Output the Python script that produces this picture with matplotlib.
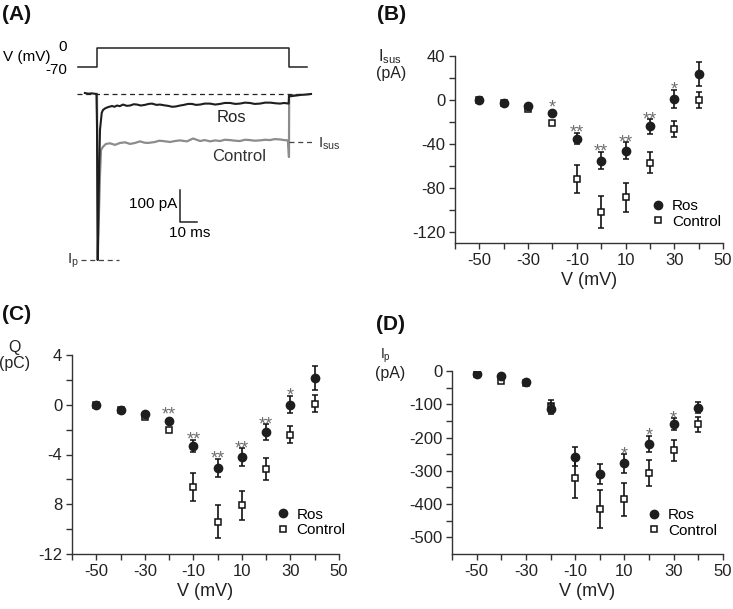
import numpy as np
import matplotlib.pyplot as plt
from matplotlib.lines import Line2D

plt.rcParams['font.family'] = ['Liberation Sans', 'DejaVu Sans']
plt.rcParams['mathtext.fontset'] = 'custom'
plt.rcParams['mathtext.rm'] = 'Liberation Sans'
plt.rcParams['axes.unicode_minus'] = False

# DATA
volts = [-50, -40, -30, -20, -10, 0, 10, 20, 30, 40]

# (B) sustained current, pA
isus_ros = [0, -3, -5, -12, -35, -55, -46, -24, 1, 23.5]
isus_ros_err = [0, 0, 0, 0, 5.4, 8, 7.5, 6.5, 8, 10.7]
isus_ctl = [0, -3, -8.5, -20.5, -72, -102, -88.6, -57, -26, 0]
isus_ctl_err = [0, 0, 0, 0, 12.7, 14.6, 13, 9.8, 7.2, 7.7]
isus_stars = ['', '', '', '*', '**', '**', '**', '**', '*', '']

# (C) charge, pC
q_ros = [0, -0.41, -0.76, -1.28, -3.3, -5.1, -4.2, -2.18, 0, 2.12]
q_ros_err = [0, 0, 0, 0, 0.48, 0.73, 0.7, 0.62, 0.7, 0.97]
q_ctl = [0, -0.41, -0.98, -2.07, -6.6, -9.4, -8.1, -5.2, -2.4, 0.08]
q_ctl_err = [0, 0, 0, 0, 1.1, 1.3, 1.15, 0.88, 0.67, 0.7]
q_stars = ['', '', '', '**', '**', '**', '**', '**', '*', '']

# (D) peak current, pA
ip_ros = [-9, -15, -33, -115, -257, -310, -278, -218, -160, -110]
ip_ros_err = [0, 0, 0, 15, 29, 31, 28, 24, 18, 16]
ip_ctl = [-9, -29, -35, -105, -323, -414, -386, -307, -238, -160]
ip_ctl_err = [0, 0, 0, 18, 60, 57, 49, 40, 32, 23]
ip_stars = ['', '', '', '', '', '', '*', '*', '*', '']

# (A) example traces, ms / pA
ros_t = [-6.9, -5, -2.9, -0.3, 0, 0.4, 1.1, 1.7, 2.7, 3.4, 4.6, 6.3, 8.6, 10, 11.4, 13, 14.9,
         17, 18.9, 21, 22.9, 25, 27.4, 29.5, 31.4, 34, 36, 38, 40.6, 43, 45, 47.5, 49.7, 52,
         54.3, 56.5, 58.9, 61.5, 64.6, 67.5, 70.3, 73, 76, 79, 81.7, 84.5, 87.4, 90, 93.1,
         96, 99, 102, 104.6, 107, 109.5, 109.7, 111, 113, 116, 118.9, 122.3]
ros_i = [3, 1, 2, 0, -100, -519, -270, -112, -59, -50, -45, -41, -37.5, -40, -36, -38, -33,
         -37, -36, -32, -33, -36, -34, -31, -30, -34, -33, -35, -37, -40, -39, -36, -34, -31,
         -31, -34, -33, -30, -30, -33, -31, -28, -28, -31, -30, -27, -28, -31, -30,
         -27, -27, -29, -30, -28, -30, -6, -7, -5, -3, -2, 0]
ctl_t = [0, 0.5, 1.7, 2.3, 3.4, 5.1, 7.4, 10.3, 13.1, 16, 18.9, 21.7, 24.6, 27, 29.1, 33.1,
         35.5, 37.7, 41.7, 44.5, 47.4, 51.4, 54.9, 58.9, 61.5, 64.6, 67.5, 70.3, 73, 76, 79,
         81.7, 84.5, 87.4, 90, 93.1, 96, 98.9, 101.5, 104.6, 107, 109.1, 109.7, 109.8, 112, 116]
ctl_i = [0, -500, -253, -175, -165, -156, -154, -159, -153, -151, -156, -153, -148, -152,
         -153, -150, -146, -147, -150, -147, -145, -148, -139, -147, -144, -148, -145, -147,
         -143, -144, -146, -147, -143, -144, -146, -145, -143, -144, -141, -142, -144, -145,
         -197, -6, -5, -3]
step_t = [-11, 0, 0, 109.7, 109.7, 120]
step_v = [-70, -70, 0, 0, -70, -70]

W, H = 733, 609
fig = plt.figure(figsize=(W / 100, H / 100), dpi=100)


def box(l, r, t, b):
    return [l / W, 1 - b / H, (r - l) / W, (b - t) / H]


def ftext(x, y, s, **kw):
    fig.text(x / W, 1 - y / H, s, **kw)


# PANEL A
axv = fig.add_axes(box(70, 315, 40, 75))
axa = fig.add_axes(box(70, 315, 80, 280))
for a in (axv, axa):
    a.set_axis_off()
    a.set_xlim(-15.43, 124.57)
axv.set_ylim(-99.5, 29.5)
axa.set_ylim(-581.25, 43.75)

axv.plot(step_t, step_v, color='#222222', lw=1.1)
axv.text(-17, 4, '0', ha='right', va='center', fontsize=11, clip_on=False)
axv.text(-17, -81, '-70', ha='right', va='center', fontsize=11, clip_on=False)
axv.text(-54, -33, 'V (mV)', ha='left', va='center', fontsize=11, clip_on=False)

axa.plot(ctl_t, ctl_i, color='#8c8c8c', lw=1.6)
axa.plot(ros_t, ros_i, color='#1e1e1e', lw=1.5)
axa.plot([-11.4, 122.9], [0, 0], color='#222222', lw=0.9, ls=(0, (4, 3)))
axa.plot([109.7, 124.6], [-150, -150], color='#444444', lw=0.9, ls=(0, (4, 3)))
axa.plot([-9.1, 12.6], [-519, -519], color='#444444', lw=0.9, ls=(0, (4, 3)))
axa.text(126.5, -156, r'$\mathregular{I_{sus}}$', ha='left', va='center', fontsize=11,
         color='#333333', clip_on=False)
axa.text(-10.5, -522, r'$\mathregular{I_p}$', ha='right', va='center', fontsize=11,
         color='#333333', clip_on=False)
axa.text(77, -73, 'Ros', ha='center', va='center', fontsize=12, color='#222222')
axa.text(81, -194, 'Control', ha='center', va='center', fontsize=12, color='#333333')
# scale bar
axa.plot([47.4, 47.4, 57.4], [-300, -400, -400], color='#222222', lw=1.1)
axa.text(45.8, -345, '100 pA', ha='right', va='center', fontsize=11)
axa.text(53, -435, '10 ms', ha='center', va='center', fontsize=11)


# IV PANELS
def iv_panel(rect, ros, ros_err, ctl, ctl_err, stars, ylim, yticks, yminor, ylabels, leg_xy):
    ax = fig.add_axes(rect)
    ax.errorbar(volts, ctl, yerr=ctl_err, fmt='none', ecolor='#111111', elinewidth=1.2,
                capsize=2.5, capthick=1.1, zorder=2)
    ax.plot(volts, ctl, 's', ms=4.8, mfc='white', mec='#111111', mew=1.1, zorder=3)
    ax.errorbar(volts, ros, yerr=ros_err, fmt='none', ecolor='#111111', elinewidth=1.2,
                capsize=2.5, capthick=1.1, zorder=4)
    ax.plot(volts, ros, 'o', ms=6, mfc='#1e1e1e', mec='#1e1e1e', zorder=5)
    for v, y, e, s in zip(volts, ros, ros_err, stars):
        if s:
            # no visible error bar: sit the star above the marker instead
            dy = -3.5 if e > 0 else 0.5
            ax.annotate(s, (v, y + e), xytext=(0, dy), textcoords='offset points',
                        ha='center', va='baseline', fontsize=13, color='#6e6e6e')
    ax.set_xlim(-60, 50)
    ax.set_ylim(*ylim)
    ax.set_xticks([-50, -30, -10, 10, 30, 50])
    ax.set_xticks([-60, -40, -20, 0, 20, 40], minor=True)
    ax.set_yticks(yticks)
    ax.set_yticklabels(ylabels)
    ax.set_yticks(yminor, minor=True)
    ax.spines['top'].set_visible(False)
    ax.spines['right'].set_visible(False)
    for sp in ('left', 'bottom'):
        ax.spines[sp].set_color('#333333')
        ax.spines[sp].set_linewidth(1.0)
    ax.tick_params(which='both', direction='out', length=4, width=1.0, color='#333333',
                   labelsize=12, labelcolor='#222222', pad=3)
    ax.set_xlabel('V (mV)', fontsize=13, color='#222222', labelpad=3)
    handles = [Line2D([], [], ls='none', marker='o', ms=6, mfc='#1e1e1e', mec='#1e1e1e'),
               Line2D([], [], ls='none', marker='s', ms=4.8, mfc='white', mec='#111111', mew=1.1)]
    ax.legend(handles, ['Ros', 'Control'], loc='upper left', bbox_to_anchor=leg_xy,
              frameon=False, borderaxespad=0, borderpad=0, handlelength=1.0,
              handletextpad=0.4, labelspacing=0.1, fontsize=11)
    return ax


iv_panel(box(455, 723, 56, 243), isus_ros, isus_ros_err, isus_ctl, isus_ctl_err, isus_stars,
         (-130, 40), [40, 0, -40, -80, -120], [20, -20, -60, -100],
         ['40', '0', '-40', '-80', '-120'], (0.729, 0.235))
iv_panel(box(72, 339, 355, 554), q_ros, q_ros_err, q_ctl, q_ctl_err, q_stars,
         (-12, 4), [4, 0, -4, -8, -12], [2, -2, -6, -10],
         ['4', '0', '-4', '8', '-12'], (0.760, 0.233))
iv_panel(box(452, 723, 371, 554), ip_ros, ip_ros_err, ip_ctl, ip_ctl_err, ip_stars,
         (-550, 0), [0, -100, -200, -300, -400, -500], [-50, -150, -250, -350, -450],
         ['0', '-100', '-200', '-300', '-400', '-500'], (0.719, 0.251))

# y labels
lab = dict(ha='center', va='baseline', fontsize=11.5, color='#222222')
ftext(390, 61, r'$\mathregular{I_{sus}}$', **lab)
ftext(391, 78, '(pA)', **lab)
ftext(14, 352, 'Q', **lab)
ftext(15, 368, '(pC)', **lab)
ftext(385, 359, r'$\mathregular{I_p}$', ha='center', va='baseline', fontsize=10, color='#222222')
ftext(390, 378, '(pA)', **lab)

# panel letters
for x, y, s in [(2, 14, '(A)'), (377, 14, '(B)'), (2, 314, '(C)'), (376, 324, '(D)')]:
    ftext(x, y, s, ha='left', va='center', fontsize=15, fontweight='bold', color='#111111')

fig.savefig('out.png', dpi=100)
